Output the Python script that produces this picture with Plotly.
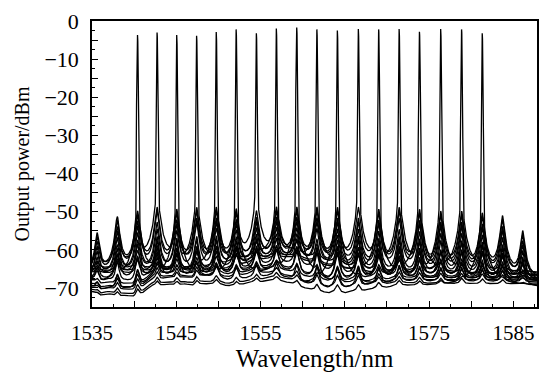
import numpy as np
import plotly.graph_objects as go

# ---------------- data ----------------
# lasing wavelengths (nm) and their peak powers (dBm), one spectrum each
lasing_nm = [1540.40, 1542.72, 1545.05, 1547.41, 1549.74, 1552.10, 1554.50, 1556.87, 1559.29,
             1561.68, 1564.11, 1566.60, 1569.01, 1571.44, 1573.85, 1576.37, 1578.85, 1581.30]
lasing_dbm = [-3.7, -3.0, -3.7, -3.9, -2.9, -2.2, -3.2, -2.0, -1.7,
              -2.2, -2.5, -2.1, -2.2, -2.1, -2.8, -2.1, -2.2, -3.2]
# level of the cusp that carries each lasing line (dBm)
own_cusp_dbm = [-49.5, -46.0, -49.0, -47.0, -48.0, -49.5, -47.5, -48.0, -47.5,
                -48.0, -48.5, -48.0, -49.5, -47.0, -48.0, -48.0, -47.5, -50.5]
# side-mode (comb) level of each spectrum at the central channels (dBm)
comb_dbm = [-60, -52, -66, -55, -63, -70, -49, -61, -68,
            -57, -72, -50, -64, -53, -67, -58, -62, -74]
# which noise floor each spectrum sits on, and its offset (dB)
floor_kind = ["flat", "ase", "flat", "ase", "ase", "flat", "ase", "ase", "flat",
              "ase", "flat", "ase", "ase", "ase", "flat", "ase", "flat", "flat"]
floor_offset_db = [1.5, 0.0, 0.0, -1.0, -0.5, 0.5, -2.0, 0.3, 1.0,
                   -1.5, -0.5, -2.5, -1.0, -2.0, 2.0, -3.0, 2.5, -1.0]

# comb channel grid (nm) and relative side-mode envelope per channel (dB)
channel_nm = [1535.6, 1538.0] + lasing_nm + [1583.7, 1586.1]
channel_env_db = [-7.0, -2.5, -1.0, 0.0, -0.5, 0.0, 0.0, -0.5, 0.0, 0.0, 0.0,
                  0.0, 0.0, 0.0, -0.5, 0.0, -0.5, -1.0, -1.0, -1.5, -2.2, -6.3]

# noise-floor profiles, read every 1 nm from 1535 to 1588 (dBm)
floor_nm = list(range(1535, 1589))
ase_floor_dbm = [-65.0, -65.0, -65.2, -65.0, -65.2, -65.3, -65.3, -65.5, -65.5, -65.5,
                 -65.5, -65.5, -65.5, -65.3, -65.0, -64.6, -64.0, -63.4, -62.8, -62.2,
                 -61.7, -61.3, -61.0, -61.0, -61.3, -61.8, -62.4, -63.0, -63.6, -64.1,
                 -64.6, -65.0, -65.4, -65.8, -66.1, -66.4, -66.6, -66.8, -67.0, -67.0,
                 -67.0, -67.0, -67.0, -67.0, -67.0, -67.0, -67.0, -67.0, -67.0, -67.0,
                 -67.0, -67.0, -67.0, -67.0]
flat_floor_dbm = [-70.0, -71.0, -70.5, -71.5, -71.0, -71.5, -70.5, -68.5, -68.5, -68.0,
                  -68.5, -68.0, -68.5, -68.0, -68.0, -68.0, -68.5, -68.5, -68.0, -67.5,
                  -67.5, -67.0, -67.0, -67.5, -68.0, -69.0, -69.5, -70.0, -70.5, -70.0,
                  -70.5, -70.0, -70.0, -69.5, -69.0, -69.0, -68.5, -68.5, -68.5, -68.5,
                  -68.5, -68.5, -68.5, -68.5, -68.5, -68.5, -68.5, -68.5, -68.5, -68.5,
                  -68.5, -68.5, -68.5, -68.5]

# axes
x_range = [1535, 1587.8]
y_range = [-75, 0]
x_tick_vals = [1535, 1540, 1545, 1550, 1555, 1560, 1565, 1570, 1575, 1580, 1585]
x_tick_text = ["1535", "", "1545", "", "1555", "", "1565", "", "1575", "", "1585"]
y_tick_vals = [0, -5, -10, -15, -20, -25, -30, -35, -40, -45, -50, -55, -60, -65, -70, -75]
y_tick_text = ["0", "", "\u221210", "", "\u221220", "", "\u221230", "", "\u221240", "",
               "\u221250", "", "\u221260", "", "\u221270", ""]

# ---------------- line shapes ----------------
COMB_HWHM = 0.2      # nm, side-mode (filtered ASE) Lorentzian width
LASER_SIGMA = 0.04   # nm, OSA-resolved lasing line width


def db2lin(v):
    return 10.0 ** (np.asarray(v, dtype=float) / 10.0)


fig = go.Figure()
floors = {"ase": ase_floor_dbm, "flat": flat_floor_dbm}
for i, lam0 in enumerate(lasing_nm):
    base = np.arange(x_range[0], x_range[1] + 1e-9, 0.02)
    dense = np.arange(lam0 - 0.3, lam0 + 0.3, 0.004)
    wl = np.unique(np.concatenate([base, dense]))
    floor = np.interp(wl, floor_nm, floors[floor_kind[i]]) + floor_offset_db[i]
    p = db2lin(floor)
    for ch, env in zip(channel_nm, channel_env_db):
        p = p + db2lin(comb_dbm[i] + env) / (1.0 + ((wl - ch) / COMB_HWHM) ** 2)
    p = p + db2lin(own_cusp_dbm[i]) / (1.0 + ((wl - lam0) / COMB_HWHM) ** 2)
    p = p + db2lin(lasing_dbm[i]) * np.exp(-0.5 * ((wl - lam0) / LASER_SIGMA) ** 2)
    fig.add_trace(go.Scatter(x=wl, y=10 * np.log10(p), mode="lines",
                             line=dict(color="black", width=1.3), showlegend=False,
                             hoverinfo="skip"))

font_family = "Liberation Serif, Times New Roman, serif"
fig.update_layout(
    width=540, height=372,
    margin=dict(l=92, r=1, t=21, b=65),
    paper_bgcolor="white", plot_bgcolor="white",
    font=dict(family=font_family, color="black", size=21),
)
fig.update_xaxes(
    range=x_range, showgrid=False, zeroline=False,
    showline=True, linecolor="black", linewidth=1.5, mirror=True,
    ticks="inside", ticklen=6, tickwidth=1.2, tickcolor="black",
    tickvals=x_tick_vals, ticktext=x_tick_text, ticklabelstandoff=6,
    minor=dict(ticks="inside", ticklen=3, tickwidth=1.2, tickcolor="black", dtick=2.5, tick0=1535),
    title=dict(text="Wavelength/nm", font=dict(size=25), standoff=2),
)
fig.update_yaxes(
    range=y_range, showgrid=False, zeroline=False,
    showline=True, linecolor="black", linewidth=1.5, mirror=True,
    ticks="inside", ticklen=6, tickwidth=1.2, tickcolor="black",
    tickvals=y_tick_vals, ticktext=y_tick_text, ticklabelstandoff=7,
    tickfont=dict(size=22),
    minor=dict(ticks="inside", ticklen=3, tickwidth=1.2, tickcolor="black", dtick=2.5, tick0=0),
    title=dict(text="Output power/dBm", font=dict(size=20), standoff=9),
)
fig.write_html("out.html", post_script="document.body.style.margin='0';",
               config={"displayModeBar": False})
